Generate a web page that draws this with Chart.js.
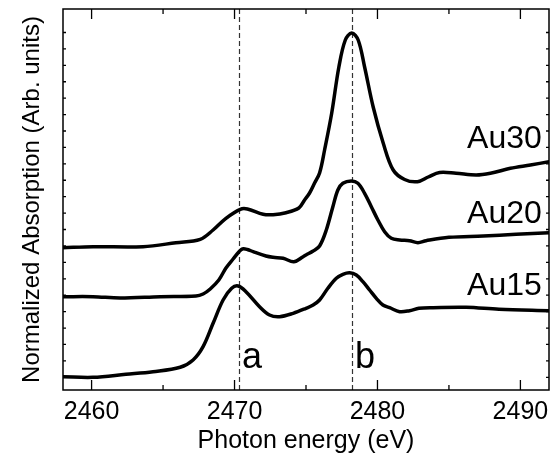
<!DOCTYPE html>
<html>
<head>
<meta charset="utf-8">
<script src="https://cdn.jsdelivr.net/npm/chart.js@4.4.0/dist/chart.umd.min.js"></script>
<style>
html, body { margin: 0; padding: 0; background: #fff; }
#wrap { width: 557px; height: 456px; }
</style>
</head>
<body>
<div id="wrap"><canvas id="xanesChart"></canvas></div>
<script>
// photon energy (eV) / absorption (arb. units)
const au30E = [2458.0, 2460.1, 2463.6, 2465.9, 2467.6, 2468.5, 2469.4, 2470.4, 2470.9, 2472.0, 2472.7, 2473.6, 2474.5, 2474.9, 2475.25, 2475.6, 2475.95, 2476.3, 2476.8, 2477.3, 2477.75, 2478.2, 2478.65, 2479.1, 2479.7, 2480.4, 2481.1, 2481.9, 2482.8, 2483.55, 2484.35, 2485.5, 2486.9, 2487.9, 2489.3, 2490.7, 2492.0];
const au30Y = [142.3, 143.3, 143.3, 147.3, 150.7, 160, 171.7, 180.7, 181, 175.7, 175.3, 177.3, 182, 190, 197, 207, 217, 240, 277, 323, 350, 357, 350, 323, 283, 247, 220, 210.5, 208.3, 213, 217.5, 216.7, 215, 216.7, 221.7, 225, 228.3];

const au20E = [2458.0, 2460.1, 2462.0, 2464.8, 2467.3, 2467.8, 2468.3, 2468.9, 2469.4, 2469.9, 2470.3, 2470.55, 2470.9, 2471.3, 2472.2, 2472.7, 2473.4, 2474.15, 2474.8, 2475.0, 2475.5, 2475.95, 2476.42, 2476.88, 2477.23, 2477.58, 2478.17, 2478.63, 2479.1, 2479.57, 2480.03, 2480.5, 2480.97, 2481.55, 2482.24, 2482.83, 2483.4, 2485.0, 2487.4, 2489.7, 2492.0];
const au20Y = [93.3, 93.3, 92, 93.3, 94, 96, 101, 110, 122, 131, 138, 141, 140.5, 138.3, 134, 132.7, 131.7, 128.2, 133.3, 135, 139, 144, 160, 183.3, 200, 206.7, 209, 206.7, 196.7, 183.3, 170, 158.3, 151.7, 150, 149.3, 147.3, 149.3, 152.7, 154, 155.7, 157.3];

const au15E = [2458.0, 2460.1, 2462.4, 2464.3, 2466.2, 2467.1, 2467.8, 2468.5, 2469.2, 2469.8, 2470.25, 2470.8, 2471.75, 2472.45, 2473.15, 2474.1, 2475.0, 2475.5, 2475.95, 2476.53, 2477.12, 2477.58, 2478.05, 2478.52, 2478.98, 2479.45, 2479.92, 2480.38, 2480.85, 2481.55, 2482.24, 2482.9, 2483.9, 2486.2, 2488.5, 2492.0];
const au15Y = [13.3, 12.7, 15.7, 18.3, 22.7, 30, 43.3, 66.7, 90, 101.7, 104, 98.3, 83.3, 75, 73.3, 76.7, 81.7, 85, 90, 101.7, 111.7, 115.7, 117.3, 115, 108.3, 100, 91.7, 85, 82.3, 78.3, 79.3, 81.7, 82.3, 82.7, 80.7, 79.3];

const seriesNames = ['Au30', 'Au20', 'Au15'];
const seriesLabelE = [2491.5, 2491.5, 2491.5];
const seriesLabelY = [242, 167, 95];

const markerNames = ['a', 'b'];
const markerE = [2470.3, 2478.2];
const markerLabelY = 22;

const xMajor = [2460, 2470, 2480, 2490];
const xMinor = [2465, 2475, 2485];
const yTicks = [];
for (let i = 0; i < 22; i++) yTicks.push(12.7 + i * 16.42);

const FONT = "'Liberation Sans', Arial, Helvetica, sans-serif";

function toPoints(xs, ys) {
    return xs.map((x, i) => ({x: x, y: ys[i]}));
}

function lineSet(label, xs, ys) {
    return {
        label: label,
        data: toPoints(xs, ys),
        borderColor: '#000',
        borderWidth: 3.5,
        borderJoinStyle: 'round',
        borderCapStyle: 'round',
        pointRadius: 0,
        fill: false,
        tension: 0.35
    };
}

const decor = {
    id: 'decor',
    beforeDatasetsDraw(chart) {
        const {ctx, chartArea: a, scales: {x}} = chart;
        ctx.save();
        ctx.strokeStyle = '#333';
        ctx.lineWidth = 1.2;
        ctx.setLineDash([5, 3]);
        markerE.forEach(e => {
            const px = Math.round(x.getPixelForValue(e)) + 0.5;
            ctx.beginPath();
            ctx.moveTo(px, a.top);
            ctx.lineTo(px, a.bottom);
            ctx.stroke();
        });
        ctx.restore();
    },
    afterDatasetsDraw(chart) {
        const {ctx, chartArea: a, scales: {x, y}} = chart;
        ctx.save();
        ctx.strokeStyle = '#000';
        ctx.lineWidth = 1.5;
        ctx.strokeRect(a.left, a.top, a.right - a.left, a.bottom - a.top);

        // inward ticks
        ctx.lineWidth = 1.3;
        ctx.beginPath();
        xMajor.forEach(v => {
            const px = x.getPixelForValue(v);
            ctx.moveTo(px, a.bottom); ctx.lineTo(px, a.bottom - 10);
            ctx.moveTo(px, a.top); ctx.lineTo(px, a.top + 10);
        });
        xMinor.forEach(v => {
            const px = x.getPixelForValue(v);
            ctx.moveTo(px, a.bottom); ctx.lineTo(px, a.bottom - 5);
            ctx.moveTo(px, a.top); ctx.lineTo(px, a.top + 5);
        });
        yTicks.forEach(v => {
            const py = y.getPixelForValue(v);
            ctx.moveTo(a.left, py); ctx.lineTo(a.left + 3, py);
            ctx.moveTo(a.right, py); ctx.lineTo(a.right - 3, py);
        });
        ctx.stroke();

        // curve labels
        ctx.fillStyle = '#000';
        ctx.textBaseline = 'alphabetic';
        ctx.textAlign = 'right';
        ctx.font = '32px ' + FONT;
        seriesNames.forEach((t, i) => {
            ctx.fillText(t, x.getPixelForValue(seriesLabelE[i]), y.getPixelForValue(seriesLabelY[i]));
        });
        ctx.textAlign = 'left';
        ctx.font = '36px ' + FONT;
        markerNames.forEach((t, i) => {
            const px = Math.round(x.getPixelForValue(markerE[i])) + 3;
            ctx.fillText(t, px, y.getPixelForValue(markerLabelY));
        });
        ctx.restore();
    }
};

const ctx = document.getElementById('xanesChart').getContext('2d');
new Chart(ctx, {
    type: 'line',
    data: {
        datasets: [
            lineSet('Au30', au30E, au30Y),
            lineSet('Au20', au20E, au20Y),
            lineSet('Au15', au15E, au15Y)
        ]
    },
    options: {
        responsive: true,
        maintainAspectRatio: false,
        animation: false,
        layout: { padding: { top: 9, right: 8, left: 0, bottom: 0 } },
        scales: {
            x: {
                type: 'linear',
                min: 2458,
                max: 2492,
                grid: { display: false, drawTicks: false },
                border: { display: false },
                ticks: {
                    stepSize: 10,
                    includeBounds: false,
                    maxRotation: 0,
                    padding: 7,
                    color: '#000',
                    font: { family: FONT, size: 25 },
                    callback: v => String(v)
                },
                title: {
                    display: true,
                    text: 'Photon energy (eV)',
                    color: '#000',
                    font: { family: FONT, size: 25 },
                    padding: { top: 0, bottom: 0 }
                },
                afterFit(scale) { scale.height = 66; }
            },
            y: {
                min: 0,
                max: 381,
                grid: { display: false, drawTicks: false },
                border: { display: false },
                ticks: { display: false },
                title: {
                    display: true,
                    text: 'Normalized Absorption (Arb. units)',
                    color: '#000',
                    font: { family: FONT, size: 24 },
                    padding: { top: 18, bottom: 0 }
                },
                afterFit(scale) { scale.width = 63; }
            }
        },
        plugins: {
            legend: { display: false },
            tooltip: { enabled: false }
        }
    },
    plugins: [decor]
});
</script>
</body>
</html>
